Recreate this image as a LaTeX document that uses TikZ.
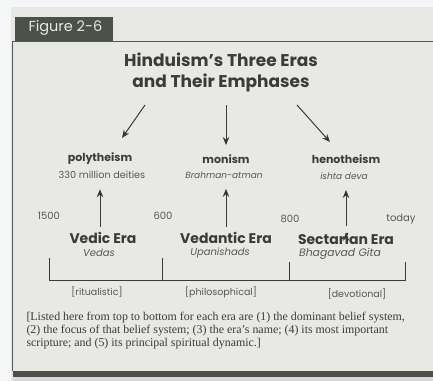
\documentclass[tikz,border=0pt]{standalone}
\usepackage{fontspec}
\setmainfont{Liberation Serif}
\newfontfamily\futura{Poppins}
\usepackage{tikz}
\usetikzlibrary{positioning}
\usetikzlibrary{arrows.meta}
\definecolor{paper}{HTML}{E8E9E5}
\definecolor{outside}{HTML}{F4F6F8}
\definecolor{tabgrey}{HTML}{4B5049}
\definecolor{ink}{HTML}{3A3C3A}
\definecolor{soft}{HTML}{55575A}

\begin{document}
\begin{tikzpicture}[x=1pt,y=-1pt,>={Stealth[length=8pt,width=6.5pt]},line width=1pt,inner sep=0pt]
    \tikzset{heading/.style={font=\futura\bfseries\fontsize{17}{21}\selectfont,text=ink,align=center},
             belief/.style={font=\futura\bfseries\fontsize{11}{13}\selectfont,text=ink},
             focus/.style={font=\futura\fontsize{9.7}{12}\selectfont,text=soft},
             era/.style={font=\futura\bfseries\fontsize{14}{16}\selectfont,text=ink},
             book/.style={font=\futura\itshape\fontsize{10}{12}\selectfont,text=soft},
             year/.style={font=\futura\fontsize{10}{12}\selectfont,text=soft},
             mood/.style={font=\futura\fontsize{9.5}{11}\selectfont,text=soft},
             rule/.style={draw=soft,line width=0.8pt}}
    \useasboundingbox (0,0) rectangle (433,381);
    \fill[outside] (0,0) rectangle (433,381);
    \fill[paper] (11,7) rectangle (433,381);
    \node[fill=tabgrey,anchor=north west,minimum width=98pt,minimum height=24pt] (tab) at (14,16) {};
    \node[font=\futura\fontsize{14.5}{16}\selectfont,text=paper,anchor=west] (figno) at (28,28) {Figure 2-6};
    \draw[rule] (12,41) -- (433,41);
    \draw[rule] (12,41) -- (12,371);
    \fill[tabgrey] (13,371) rectangle (433,377);
    \fill[black!15] (13,377) rectangle (433,381);
    \node[heading] (title) at (221,72) {Hinduism’s Three Eras\\and Their Emphases};
    % what each era believed
    \node[belief] (poly) at (100,159) {polytheism};
    \node[belief] (mon) at (226,159) {monism};
    \node[belief] (heno) at (346,159) {henotheism};
    \node[focus] (deities) at (102,175) {330 million deities};
    \node[book,font=\futura\itshape\fontsize{9}{11}\selectfont] (brahman) at (224,175) {Brahman-atman};
    \node[book,font=\futura\itshape\fontsize{9}{11}\selectfont] (ishta) at (344,176) {ishta deva};
    % the eras
    \node[era] (vedic) at (103,238) {Vedic Era};
    \node[era] (vedantic) at (226,238) {Vedantic Era};
    \node[era] (sect) at (346,239) {Sectarian Era};
    \node[book] (vedas) at (99,253) {Vedas};
    \node[book] (upan) at (220,253) {Upanishads};
    \node[book,font=\futura\itshape\fontsize{10.8}{12}\selectfont] (gita) at (340,254) {Bhagavad Gita};
    \node[year] (y1500) at (49,216) {1500};
    \node[year] (y600) at (163,216) {600};
    \node[year] (y800) at (290,219) {800};
    \node[year] (ytoday) at (401,219) {today};
    \node[mood] (rit) at (97,292) {[ritualistic]};
    \node[mood] (phil) at (221,292) {[philosophical]};
    \node[mood] (dev) at (357,294) {[devotional]};
    \coordinate (fromleft) at (145,105);
    \coordinate (frommid) at (226,105);
    \coordinate (fromright) at (297,105);
    \coordinate (toleft) at (122,138);
    \coordinate (tomid) at (226,145);
    \coordinate (toright) at (330,142);
    \path[->,draw=ink]
    (fromleft) edge (toleft)
    (frommid) edge (tomid)
    (fromright) edge (toright)
    (vedic.north -| poly) edge [shorten <=5pt,shorten >=10pt] (deities.south -| poly)
    (vedantic.north -| mon) edge [shorten <=5pt,shorten >=10pt] (brahman.south -| mon)
    (sect.north -| heno) edge [shorten <=7pt,shorten >=10pt] (ishta.south -| heno)
    ;
    % bracket under the eras
    \draw[draw=ink,line width=0.9pt] (49,258) |- (405,280) -- (405,262);
    \draw[draw=ink,line width=0.9pt] (162,258) -- (162,280);
    \draw[draw=ink,line width=0.9pt] (289,262) -- (289,280);
    \node[anchor=north west,align=left,text=ink,font=\fontsize{11.9}{13}\selectfont] (note) at (26,312)
      {[Listed here from top to bottom for each era are (1) the dominant belief system,\\
       (2) the focus of that belief system; (3) the era’s name; (4) its most important\\
       scripture; and (5) its principal spiritual dynamic.]};
  \end{tikzpicture}
\end{document}
